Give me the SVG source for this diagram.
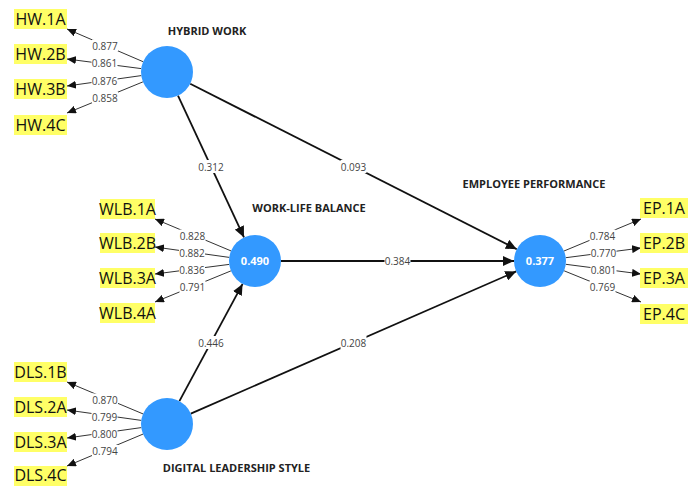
<svg xmlns="http://www.w3.org/2000/svg" width="688" height="486" viewBox="0 0 688 486">
<style>
.lv{fill:#3399FF}
.lvt{font-family:"Open Sans",sans-serif;font-size:11px;font-weight:bold;fill:#fff;text-anchor:middle}
.ttl{font-family:"Open Sans",sans-serif;font-size:11px;font-weight:bold;fill:#222;text-anchor:middle}
.box{fill:#FFFF66}
.ind{font-family:"Open Sans",sans-serif;font-size:16px;fill:#111;text-anchor:middle}
.il{stroke:#333;stroke-width:1;fill:none;marker-end:url(#ai)}
.sl{stroke:#111;stroke-width:1.8;fill:none;marker-end:url(#as)}
.lb{font-family:"Open Sans",sans-serif;font-size:10px;fill:#444;text-anchor:middle}
.lbg{fill:#fff}
</style>
<defs>
<marker id="ai" markerUnits="userSpaceOnUse" markerWidth="10" markerHeight="8" refX="9" refY="4" orient="auto"><path d="M0,0 L9,4 L0,8 Z" fill="#111"/></marker>
<marker id="as" markerUnits="userSpaceOnUse" markerWidth="12" markerHeight="10" refX="11" refY="5" orient="auto"><path d="M0,0 L11,5 L0,10 Z" fill="#111"/></marker>
</defs>
<g id="connectors">
<line class="sl" x1="178" y1="95.6" x2="244" y2="237.4"/>
<line class="sl" x1="190.2" y1="83.8" x2="516.8" y2="249.2"/>
<line class="sl" x1="281" y1="261" x2="514" y2="261"/>
<line class="sl" x1="179.4" y1="401.1" x2="242.6" y2="283.9"/>
<line class="sl" x1="190.8" y1="413.6" x2="516.2" y2="271.4"/>
<line class="il" x1="143.1" y1="61.7" x2="67" y2="29"/>
<line class="il" x1="141.2" y1="68.6" x2="67" y2="59"/>
<line class="il" x1="141.3" y1="75.6" x2="67" y2="86"/>
<line class="il" x1="142.9" y1="81.9" x2="67" y2="113"/>
<line class="il" x1="231" y1="250.9" x2="155" y2="219"/>
<line class="il" x1="229.3" y1="257.4" x2="155" y2="247"/>
<line class="il" x1="229.2" y1="264.4" x2="155" y2="274"/>
<line class="il" x1="230.9" y1="270.9" x2="155" y2="302"/>
<line class="il" x1="143" y1="413.9" x2="67" y2="382"/>
<line class="il" x1="141.3" y1="420.4" x2="67" y2="410"/>
<line class="il" x1="141.3" y1="427.6" x2="67" y2="438"/>
<line class="il" x1="143" y1="434.1" x2="67" y2="466"/>
<line class="il" x1="564" y1="251" x2="641" y2="219"/>
<line class="il" x1="565.8" y1="257.7" x2="641" y2="248"/>
<line class="il" x1="565.8" y1="264.3" x2="641" y2="274"/>
<line class="il" x1="564.1" y1="270.8" x2="641" y2="302"/>
<g id="labels">
<rect class="lbg" x="198" y="160" width="26" height="13"/><text class="lb" x="211" y="170.5">0.312</text>
<rect class="lbg" x="340.5" y="160" width="26" height="13"/><text class="lb" x="353.5" y="170.5">0.093</text>
<rect class="lbg" x="384.5" y="254.5" width="26" height="13"/><text class="lb" x="397.5" y="265">0.384</text>
<rect class="lbg" x="198" y="336" width="26" height="13"/><text class="lb" x="211" y="346.5">0.446</text>
<rect class="lbg" x="340.5" y="336" width="26" height="13"/><text class="lb" x="353.5" y="346.5">0.208</text>
<rect class="lbg" x="92" y="39.5" width="26" height="12"/><text class="lb" x="105" y="49.5">0.877</text>
<rect class="lbg" x="91.5" y="57" width="26" height="12"/><text class="lb" x="104.5" y="67">0.861</text>
<rect class="lbg" x="91.5" y="74.5" width="26" height="12"/><text class="lb" x="104.5" y="84.5">0.876</text>
<rect class="lbg" x="92" y="91.5" width="26" height="12"/><text class="lb" x="105" y="101.5">0.858</text>
<rect class="lbg" x="179.5" y="229.5" width="26" height="12"/><text class="lb" x="192.5" y="239.5">0.828</text>
<rect class="lbg" x="179" y="246.5" width="26" height="12"/><text class="lb" x="192" y="256.5">0.882</text>
<rect class="lbg" x="179" y="263.5" width="26" height="12"/><text class="lb" x="192" y="273.5">0.836</text>
<rect class="lbg" x="179.5" y="281" width="26" height="12"/><text class="lb" x="192.5" y="291">0.791</text>
<rect class="lbg" x="92" y="393.5" width="26" height="12"/><text class="lb" x="105" y="403.5">0.870</text>
<rect class="lbg" x="91.5" y="410.5" width="26" height="12"/><text class="lb" x="104.5" y="420.5">0.799</text>
<rect class="lbg" x="91.5" y="427.5" width="26" height="12"/><text class="lb" x="104.5" y="437.5">0.800</text>
<rect class="lbg" x="92" y="445" width="26" height="12"/><text class="lb" x="105" y="455">0.794</text>
<rect class="lbg" x="589.5" y="229.5" width="26" height="12"/><text class="lb" x="602.5" y="239.5">0.784</text>
<rect class="lbg" x="590.5" y="247" width="26" height="12"/><text class="lb" x="603.5" y="257">0.770</text>
<rect class="lbg" x="590.5" y="263.5" width="26" height="12"/><text class="lb" x="603.5" y="273.5">0.801</text>
<rect class="lbg" x="589.5" y="281" width="26" height="12"/><text class="lb" x="602.5" y="291">0.769</text>
</g>
</g>
<g id="HW">
<circle class="lv" cx="167" cy="72" r="26"/>
<text class="ttl" x="207" y="35">HYBRID WORK</text>
</g>
<g id="WLB">
<circle class="lv" cx="255" cy="261" r="26"/>
<text class="lvt" x="255" y="265">0.490</text>
<text class="ttl" x="309" y="212">WORK-LIFE BALANCE</text>
</g>
<g id="DLS">
<circle class="lv" cx="167" cy="424" r="26"/>
<text class="ttl" x="236.5" y="471.5">DIGITAL LEADERSHIP STYLE</text>
</g>
<g id="EP">
<circle class="lv" cx="540" cy="261" r="26"/>
<text class="lvt" x="540" y="265">0.377</text>
<text class="ttl" x="534" y="188">EMPLOYEE PERFORMANCE</text>
</g>
<g id="HW.1A"><rect class="box" x="14" y="9" width="53" height="20"/><text class="ind" x="40.5" y="25">HW.1A</text></g>
<g id="HW.2B"><rect class="box" x="14" y="44" width="53" height="20"/><text class="ind" x="40.5" y="60">HW.2B</text></g>
<g id="HW.3B"><rect class="box" x="14" y="79" width="53" height="20"/><text class="ind" x="40.5" y="95">HW.3B</text></g>
<g id="HW.4C"><rect class="box" x="14" y="115" width="53" height="20"/><text class="ind" x="40.5" y="131">HW.4C</text></g>
<g id="WLB.1A"><rect class="box" x="100" y="199" width="55" height="20"/><text class="ind" x="127.5" y="215">WLB.1A</text></g>
<g id="WLB.2B"><rect class="box" x="100" y="233" width="55" height="20"/><text class="ind" x="127.5" y="249">WLB.2B</text></g>
<g id="WLB.3A"><rect class="box" x="100" y="268" width="55" height="20"/><text class="ind" x="127.5" y="284">WLB.3A</text></g>
<g id="WLB.4A"><rect class="box" x="100" y="303" width="55" height="20"/><text class="ind" x="127.5" y="319">WLB.4A</text></g>
<g id="DLS.1B"><rect class="box" x="14" y="362" width="53" height="20"/><text class="ind" x="40.5" y="378">DLS.1B</text></g>
<g id="DLS.2A"><rect class="box" x="14" y="397" width="53" height="20"/><text class="ind" x="40.5" y="413">DLS.2A</text></g>
<g id="DLS.3A"><rect class="box" x="14" y="432" width="53" height="20"/><text class="ind" x="40.5" y="448">DLS.3A</text></g>
<g id="DLS.4C"><rect class="box" x="14" y="466" width="53" height="20"/><text class="ind" x="40.5" y="481">DLS.4C</text></g>
<g id="EP.1A"><rect class="box" x="640" y="198" width="48" height="20"/><text class="ind" x="664" y="214">EP.1A</text></g>
<g id="EP.2B"><rect class="box" x="640" y="233" width="48" height="20"/><text class="ind" x="664" y="249">EP.2B</text></g>
<g id="EP.3A"><rect class="box" x="640" y="268" width="48" height="20"/><text class="ind" x="664" y="284">EP.3A</text></g>
<g id="EP.4C"><rect class="box" x="640" y="304" width="48" height="20"/><text class="ind" x="664" y="320">EP.4C</text></g>
</svg>
